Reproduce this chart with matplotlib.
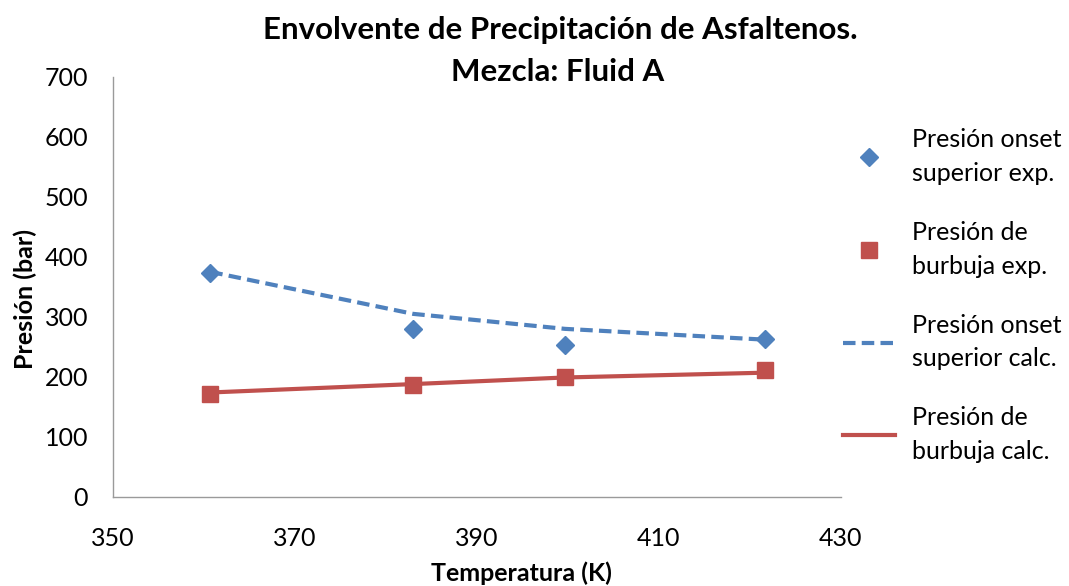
import matplotlib
matplotlib.use("Agg")
import matplotlib.pyplot as plt

T_exp = [360.7, 383.0, 399.7, 421.7]
P_onset_exp = [373, 280, 253, 263]
P_bub_exp = [172, 186, 199, 211]
T_calc = [360.7, 383.0, 399.7, 421.7]
P_onset_calc = [375, 305, 280, 262]
P_bub_calc = [174, 188, 199, 207]

x_ticks = [350, 370, 390, 410, 430]
y_ticks = [0, 100, 200, 300, 400, 500, 600, 700]

blue = "#4F81BD"
red = "#C0504D"
plt.rcParams['font.family'] = ['Lato', 'DejaVu Sans']

fig = plt.figure(figsize=(10.69, 5.86), dpi=100)
ax = fig.add_axes([0.1057, 0.152, 0.6806, 0.717])

ax.plot(T_exp, P_onset_exp, linestyle='none', marker='D', markersize=9,
        color=blue, label='Presión onset\nsuperior exp.', zorder=4)
ax.plot(T_exp, P_bub_exp, linestyle='none', marker='s', markersize=11,
        color=red, label='Presión de\nburbuja exp.', zorder=4)
ax.plot(T_calc, P_onset_calc, linestyle=(0, (3, 1.5)), linewidth=3,
        color=blue, label='Presión onset\nsuperior calc.', zorder=3)
ax.plot(T_calc, P_bub_calc, linestyle='-', linewidth=3,
        color=red, label='Presión de\nburbuja calc.', zorder=3)

ax.set_xlim(350, 430)
ax.set_ylim(0, 700)
ax.set_xticks(x_ticks)
ax.set_yticks(y_ticks)
ax.tick_params(axis='both', length=0, labelsize=18, colors='black')
ax.tick_params(axis='x', pad=22)
ax.tick_params(axis='y', pad=18)
for s in ['top', 'right']:
    ax.spines[s].set_visible(False)
for s in ['left', 'bottom']:
    ax.spines[s].set_color('#9a9a9a')
    ax.spines[s].set_linewidth(1)

fig.text(0.488, 0.022, 'Temperatura (K)', ha='center', va='center',
         fontsize=18, fontweight='bold')
fig.text(0.024, 0.49, 'Presión (bar)', ha='center', va='center',
         rotation=90, fontsize=18, fontweight='bold')
fig.text(0.524, 1 - 30/586, 'Envolvente de Precipitación de Asfaltenos.',
         ha='center', va='center', fontsize=22.5, fontweight='bold')
fig.text(0.522, 1 - 72/586, 'Mezcla: Fluid A',
         ha='center', va='center', fontsize=22.5, fontweight='bold')

leg = ax.legend(loc='upper left', bbox_to_anchor=(0.99, 0.901), frameon=False,
                fontsize=18, labelspacing=1.45, handlelength=2.05,
                handletextpad=0.7, borderaxespad=0.0)
for t in leg.get_texts():
    t.set_linespacing(1.55)

fig.savefig('out.png', dpi=100)
